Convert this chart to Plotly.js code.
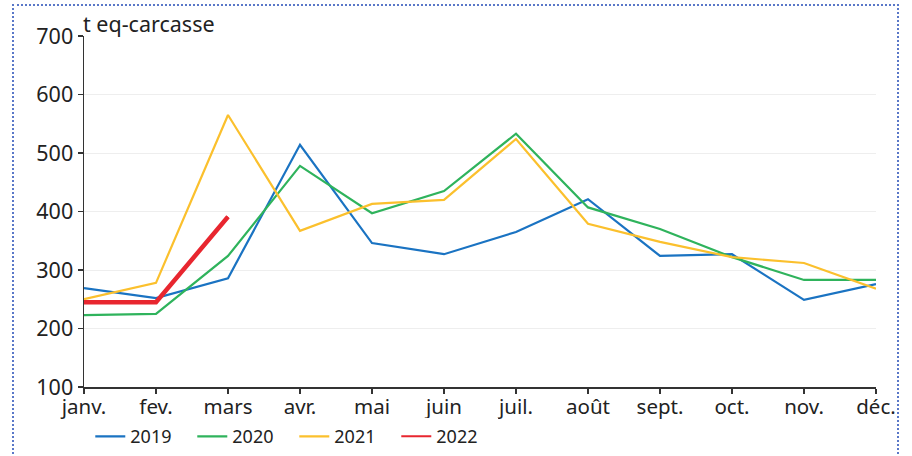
<!DOCTYPE html>
<html>
<head>
<meta charset="utf-8">
<script src="https://cdn.plot.ly/plotly-3.0.1.min.js"></script>
<style>
  html, body { margin: 0; padding: 0; background: #fff; }
  #wrap { position: relative; width: 912px; height: 456px; }
  #frame { position: absolute; left: 12px; top: 4px; width: 887px; height: 470px;
           border-top: 2px dotted #5a78c8; border-left: 2px dotted #5a78c8; border-right: 2px dotted #5a78c8; box-sizing: border-box; pointer-events: none; }
  #chart { position: absolute; left: 0; top: 0; width: 912px; height: 456px; }
</style>
</head>
<body>
<div id="wrap">
  <div id="chart"></div>
  <div id="frame"></div>
</div>
<script>
const months = ["janv.", "fev.", "mars", "avr.", "mai", "juin", "juil.", "août", "sept.", "oct.", "nov.", "déc."];
const v2019 = [269, 252, 286, 514, 346, 327, 365, 421, 324, 327, 249, 276];
const v2020 = [223, 225, 324, 478, 397, 435, 533, 407, 370, 322, 283, 283];
const v2021 = [250, 278, 565, 367, 413, 420, 524, 379, 348, 322, 312, 268];
const v2022 = [245, 245, 391];
const yTicks = [100, 200, 300, 400, 500, 600, 700];
const yUnit = "t eq-carcasse";

const font = "Noto Sans, Open Sans, DejaVu Sans, sans-serif";
const m2022 = months.slice(0, v2022.length);

const traces = [
  { name: "2019", x: months, y: v2019, mode: "lines", line: { color: "#1a73c2", width: 2.2 } },
  { name: "2020", x: months, y: v2020, mode: "lines", line: { color: "#2fb35c", width: 2.2 } },
  { name: "2021", x: months, y: v2021, mode: "lines", line: { color: "#fbc02d", width: 2.2 } },
  { name: "2022", x: m2022, y: v2022, mode: "lines", line: { color: "#e8262f", width: 2 } },
  { name: "2022", x: m2022, y: v2022, mode: "lines", line: { color: "#e8262f", width: 4.5 }, showlegend: false }
];

const layout = {
  width: 912, height: 456,
  margin: { l: 84, r: 36, t: 36, b: 69 },
  paper_bgcolor: "#fff", plot_bgcolor: "#fff",
  font: { family: font, color: "#222", size: 20 },
  showlegend: true,
  legend: {
    orientation: "h", xref: "container", yref: "container",
    x: 0.099, xanchor: "left", y: 0.083, yanchor: "top",
    font: { size: 18, color: "#222" },
    entrywidth: 57, entrywidthmode: "pixels",
    traceorder: "normal", itemclick: false
  },
  xaxis: {
    type: "category", categoryarray: months, range: [0, 11],
    showline: true, linecolor: "#333", linewidth: 1.5,
    ticks: "outside", ticklen: 5, tickcolor: "#333", tickwidth: 1.5,
    ticklabelstandoff: -4,
    showgrid: false, zeroline: false, automargin: false,
    tickfont: { size: 20.5, color: "#222" }, fixedrange: true
  },
  yaxis: {
    range: [100, 700], tickvals: yTicks, ticktext: yTicks.map(String),
    showline: true, linecolor: "#333", linewidth: 1.5,
    ticks: "outside", ticklen: 5, tickcolor: "#333", tickwidth: 1.5,
    showgrid: true, gridcolor: "#eeeeee", gridwidth: 1, zeroline: false, automargin: false,
    tickfont: { size: 21.5, color: "#222" }, fixedrange: true
  },
  annotations: [{
    text: yUnit, xref: "paper", yref: "paper", x: 0, y: 1,
    xanchor: "left", yanchor: "bottom", showarrow: false,
    font: { size: 21.5, color: "#222" }, xshift: -3, yshift: -4
  }]
};

Plotly.newPlot("chart", traces, layout, { displayModeBar: false, staticPlot: true });
</script>
</body>
</html>
